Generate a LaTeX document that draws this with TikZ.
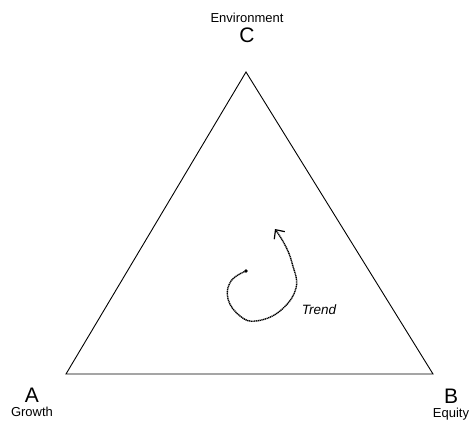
\documentclass[tikz,border=0pt]{standalone}
\usepackage{fontspec}
\setmainfont{Liberation Sans}
\usetikzlibrary{positioning, arrows.meta}
\tikzstyle{corner} = [font=\fontsize{21}{21}\selectfont, inner sep=0pt]
\tikzstyle{caption} = [font=\fontsize{13}{13}\selectfont, inner sep=0pt]
\tikzstyle{path} = [line width=1.4pt, dash pattern=on 1.2pt off 0.6pt]

\begin{document}
\begin{tikzpicture}[x=1pt, y=-1pt, node distance=4pt]
		\useasboundingbox (0,0) rectangle (474,423);
		%Place corners
		\coordinate (growth) at (66,374);
		\coordinate (equity) at (433,374);
		\coordinate (env) at (246,72);
		
		%Place labels
		\node [corner] (a) at (32,395) {A};
		\node [caption, below=4pt of a] (aTxt) {Growth};
		\node [corner] (b) at (451,396) {B};
		\node [caption, below=4pt of b] (bTxt) {Equity};
		\node [corner] (c) at (247,35) {C};
		\node [caption, above=5pt of c] (cTxt) {Environment};
		\node [caption, font=\fontsize{13.5}{13.5}\selectfont\itshape] (trend) at (319,310) {Trend};
		
		%Draw triangle
		\draw [line width=0.9pt] (growth) -- (equity) -- (env) -- cycle;
		
		%Draw trend
		\coordinate (start) at (246,271);
		\coordinate (tip) at (275,229);
		\fill (start) circle (1.8);
		\draw [path, -{Straight Barb[length=7pt, width=13pt, line width=1.2pt]}] plot [smooth, tension=0.7] coordinates {(start) (231,281) (228,299) (240,316) (256,321) (280,311) (296,288) (292,263) (285,245) (tip)};
		
	\end{tikzpicture}
\end{document}
